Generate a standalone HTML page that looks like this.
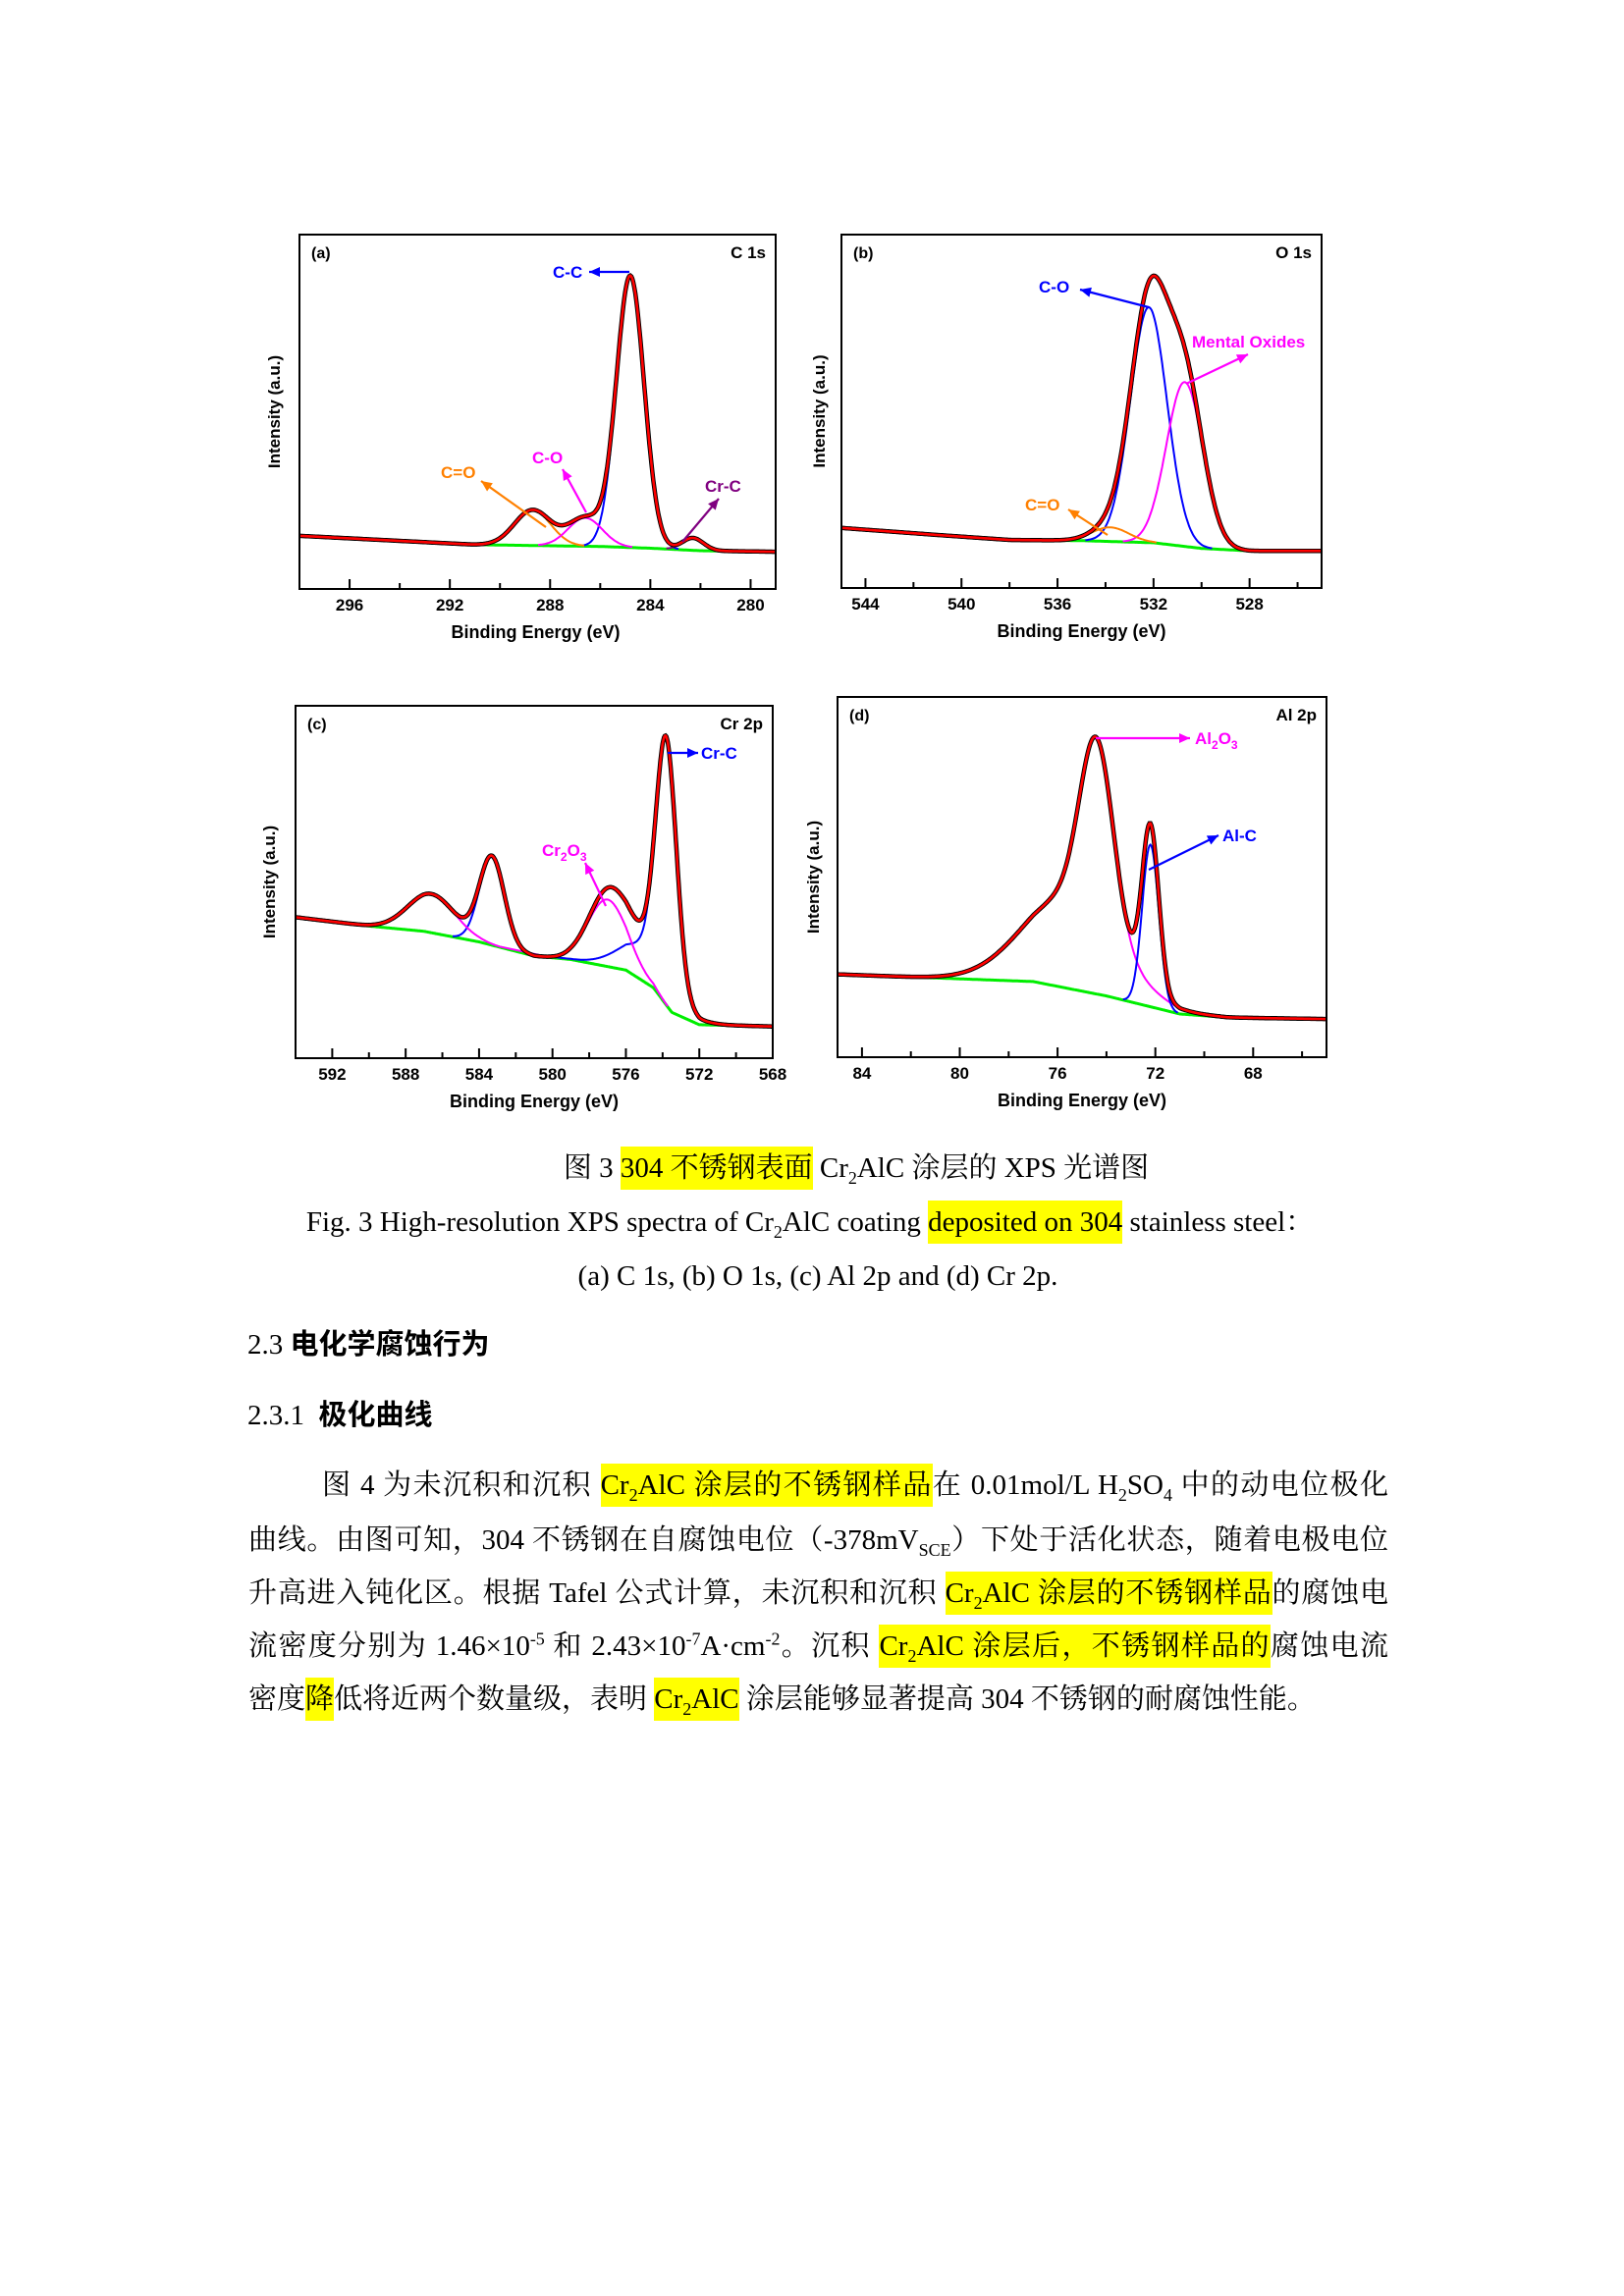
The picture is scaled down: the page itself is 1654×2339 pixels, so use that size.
<!DOCTYPE html>
<html><head><meta charset="utf-8">
<style>
html,body{margin:0;padding:0;background:#fff;}
body{width:1654px;height:2339px;position:relative;overflow:hidden;font-family:"Liberation Serif","Noto Serif CJK SC",serif;color:#000;}
.ln{position:absolute;white-space:nowrap;font-size:29px;line-height:40px;}
.j{text-align:justify;text-align-last:justify;white-space:normal;}
.hl{background:#ffff00;padding:6px 0;}
.c{text-align:center;}
sub,sup{font-size:0.62em;line-height:0;}
.hb{font-family:"Liberation Sans","Noto Sans CJK SC",sans-serif;font-weight:bold;}
svg text{font-family:"Liberation Sans",sans-serif;font-weight:bold;}
</style></head>
<body>
<svg id="fig" width="1654" height="1160" style="position:absolute;left:0;top:0" xmlns="http://www.w3.org/2000/svg"></svg>

<div class="ln c" style="left:0;width:1744px;top:1170px;">图 3 <span class="hl">304 不锈钢表面</span> Cr<sub>2</sub>AlC 涂层的 XPS 光谱图</div>
<div class="ln c" style="left:0;width:1650px;top:1225px;">Fig. 3 High-resolution XPS spectra of Cr<sub>2</sub>AlC coating <span class="hl">deposited on 304</span> stainless steel：</div>
<div class="ln c" style="left:0;width:1666px;top:1280px;">(a) C 1s, (b) O 1s, (c) Al 2p and (d) Cr 2p.</div>

<div class="ln" style="left:252px;top:1350px;">2.3 <span class="hb">电化学腐蚀行为</span></div>
<div class="ln" style="left:252px;top:1422px;">2.3.1&nbsp; <span class="hb">极化曲线</span></div>

<div>
<div class="ln j" style="left:328px;width:1086px;top:1493px;">图 4 为未沉积和沉积 <span class="hl">Cr<sub>2</sub>AlC 涂层的不锈钢样品</span>在 0.01mol/L H<sub>2</sub>SO<sub>4</sub> 中的动电位极化</div>
<div class="ln j" style="left:253px;width:1161px;top:1549px;">曲线。由图可知，304 不锈钢在自腐蚀电位（-378mV<sub>SCE</sub>）下处于活化状态，随着电极电位</div>
<div class="ln j" style="left:253px;width:1161px;top:1603px;">升高进入钝化区。根据 Tafel 公式计算，未沉积和沉积 <span class="hl">Cr<sub>2</sub>AlC 涂层的不锈钢样品</span>的腐蚀电</div>
<div class="ln j" style="left:253px;width:1161px;top:1657px;">流密度分别为 1.46×10<sup>-5</sup> 和 2.43×10<sup>-7</sup>A·cm<sup>-2</sup>。沉积 <span class="hl">Cr<sub>2</sub>AlC 涂层后，不锈钢样品的</span>腐蚀电流</div>
<div class="ln" style="left:253px;top:1711px;">密度<span class="hl">降</span>低将近两个数量级，表明 <span class="hl">Cr<sub>2</sub>AlC</span> 涂层能够显著提高 304 不锈钢的耐腐蚀性能。</div>
</div>

<script>
// ---------- data ----------
// Panel (a) C 1s
const aTicks=[296,292,288,284,280];
const aBgX=[298,291,286,284,282,279];
const aBgY=[15,12.5,12,11.5,10.8,10.5];
const aPeakCenter=[284.8,288.7,286.6,282.3];
const aPeakAmp=[76.5,10,8,3.5];
const aPeakFwhm=[1.3,1.7,1.6,1.0];
const aPeakGroup=[0,1,2,3];
// Panel (b) O 1s
const bTicks=[544,540,536,532,528];
const bBgX=[545,541,538,535,532,530,528,525];
const bBgY=[17,15,13.6,13.4,12.8,11.2,10.5,10.5];
const bPeakCenter=[532.2,530.7,533.8];
const bPeakAmp=[66.6,46.5,4];
const bPeakFwhm=[1.8,1.8,1.8];
const bPeakGroup=[0,1,2];
// Panel (c) Cr 2p
const cTicks=[592,588,584,580,576,572,568];
const cBgX=[594,590,587,584,581,579,576,574.5,573.5,572,568];
const cBgY=[40,37.5,36,33,29,28,25,20,13,9.5,9];
const cPeakCenter=[573.8,574.8,583.3,586.6,577.0];
const cPeakAmp=[68,10,25,11,19];
const cPeakFwhm=[1.3,3.5,1.6,3,2.5];
const cPeakGroup=[0,0,0,1,1];
// Panel (d) Al 2p
const dTicks=[84,80,76,72,68];
const dBgX=[85,77,74,71,69,65];
const dBgY=[23,21,17,12,11,10.6];
const dPeakCenter=[74.4,75.5,72.2];
const dPeakAmp=[50,25,45];
const dPeakFwhm=[1.6,4.5,0.8];
const dPeakGroup=[0,0,1];

// ---------- drawing ----------
const NS="http://www.w3.org/2000/svg";
const svg=document.getElementById('fig');
function mk(tag,attrs,parent){const e=document.createElementNS(NS,tag);for(const k in attrs)e.setAttribute(k,attrs[k]);(parent||svg).appendChild(e);return e;}
function txt(s,x,y,size,fill,anchor,parent){const t=mk('text',{x:x,y:y,'font-size':size,fill:fill,'text-anchor':anchor||'start'},parent);t.textContent=s;return t;}

function panel(cfg){
  const g=mk('g',{});
  
  
  const L=cfg.box[0],T=cfg.box[1],R=cfg.box[2],B=cfg.box[3],W=R-L,H=B-T;
  const xs=v=>L+(cfg.x0-v)/(cfg.x0-cfg.x1)*W;
  const ys=v=>B-v/100*H;
  const bg=v=>{const X=cfg.bgX,Y=cfg.bgY;if(v>=X[0])return Y[0];for(let i=0;i<X.length-1;i++){if(v<=X[i]&&v>=X[i+1]){const t=(X[i]-v)/(X[i]-X[i+1]);return Y[i]+t*(Y[i+1]-Y[i]);}}return Y[Y.length-1];};
  const comp=(i,v)=>cfg.amp[i]*Math.exp(-4*Math.LN2*Math.pow((v-cfg.cen[i])/cfg.fwhm[i],2));
  const vals=[];for(let v=cfg.x0;v>=cfg.x1-0.001;v-=0.04)vals.push(v);
  let d='';vals.forEach(v=>{if(v<=cfg.bgStart)d+=(d?'L':'M')+xs(v).toFixed(1)+' '+ys(bg(v)).toFixed(1);});
  const bgp=mk('path',{d:d,fill:'none',stroke:'#00ee00','stroke-width':3},g);
  
  
  const groups=[...new Set(cfg.group)];
  groups.forEach(gi=>{
    const idx=cfg.cen.map((c,i)=>i).filter(i=>cfg.group[i]===gi);
    let p='';vals.forEach(v=>{let y=0;idx.forEach(i=>y+=comp(i,v));if(y>0.15)p+=(p?'L':'M')+xs(v).toFixed(1)+' '+ys(bg(v)+y).toFixed(1);});
    const e=mk('path',{d:p,fill:'none',stroke:cfg.colors[gi],'stroke-width':2},g);
    
    
  });
  let t='';vals.forEach(v=>{let s=bg(v);cfg.cen.forEach((c,i)=>s+=comp(i,v));t+=(t?'L':'M')+xs(v).toFixed(1)+' '+ys(s).toFixed(1);});
  const raw=mk('path',{d:t,fill:'none',stroke:'#000','stroke-width':4.5},g);
  
  
  const fit=mk('path',{d:t,fill:'none',stroke:'#ff0000','stroke-width':2.6},g);
  
  
  const box=mk('rect',{x:L,y:T,width:W,height:H,fill:'none',stroke:'#000','stroke-width':2},g);
  
  
  const step=cfg.ticks[0]-cfg.ticks[1];
  for(let v=Math.ceil(cfg.x1);v<=cfg.x0;v++){
    const rel=(cfg.ticks[0]-v)/step*2;
    if(Math.abs(rel-Math.round(rel))<1e-6){
      const major=Math.abs(rel/2-Math.round(rel/2))<1e-6;
      mk('line',{x1:xs(v),x2:xs(v),y1:B,y2:B-(major?10:6),stroke:'#000','stroke-width':2},g);
    }
  }
  cfg.ticks.forEach(v=>{const tl=txt(String(v),xs(v),B+22,17,'#000','middle',g);});
  const xl=txt('Binding Energy (eV)',(L+R)/2+cfg.xlOff,B+50,18,'#000','middle',g);
  
  const yl=txt('Intensity (a.u.)',0,0,17,'#000','middle',g);
  yl.setAttribute('transform','translate('+(cfg.ylx)+','+((T+B)/2)+') rotate(-90)');
  
  const pl=txt(cfg.label,L+12,T+24,16,'#000','start',g);
  
  const el=txt(cfg.elem,R-10,T+24,17,'#000','end',g);
  
  return g;
}
function arrow(x1,y1,x2,y2,col,name){
  const g=mk('g',{});
  
  
  mk('line',{x1:x1,y1:y1,x2:x2,y2:y2,stroke:col,'stroke-width':2.2},g);
  const a=Math.atan2(y2-y1,x2-x1),l=11,w=5;
  const p=[[x2,y2],[x2-l*Math.cos(a)+w*Math.sin(a),y2-l*Math.sin(a)-w*Math.cos(a)],[x2-l*Math.cos(a)-w*Math.sin(a),y2-l*Math.sin(a)+w*Math.cos(a)]];
  mk('polygon',{points:p.map(q=>q.join(',')).join(' '),fill:col},g);
}
function label(s,x,y,col,name,anchor){const t=txt(s,x,y,17,col,anchor||'start');return t;}

panel({name:'panel-a-c1s',box:[305,239,790,600],x0:298,x1:279,ticks:aTicks,bgX:aBgX,bgY:aBgY,bgStart:292,cen:aPeakCenter,amp:aPeakAmp,fwhm:aPeakFwhm,group:aPeakGroup,colors:['#0000ff','#ff8000','#ff00ff','#800080'],label:'(a)',elem:'C 1s',ylx:285,xlOff:-2});
panel({name:'panel-b-o1s',box:[857,239,1346,599],x0:545,x1:525,ticks:bTicks,bgX:bBgX,bgY:bBgY,bgStart:537,cen:bPeakCenter,amp:bPeakAmp,fwhm:bPeakFwhm,group:bPeakGroup,colors:['#0000ff','#ff00ff','#ff8000'],label:'(b)',elem:'O 1s',ylx:840,xlOff:0});
panel({name:'panel-c-cr2p',box:[301,719,787,1078],x0:594,x1:568,ticks:cTicks,bgX:cBgX,bgY:cBgY,bgStart:594,cen:cPeakCenter,amp:cPeakAmp,fwhm:cPeakFwhm,group:cPeakGroup,colors:['#0000ff','#ff00ff'],label:'(c)',elem:'Cr 2p',ylx:280,xlOff:0});
panel({name:'panel-d-al2p',box:[853,710,1351,1077],x0:85,x1:65,ticks:dTicks,bgX:dBgX,bgY:dBgY,bgStart:85,cen:dPeakCenter,amp:dPeakAmp,fwhm:dPeakFwhm,group:dPeakGroup,colors:['#ff00ff','#0000ff'],label:'(d)',elem:'Al 2p',ylx:834,xlOff:0});

// annotations
arrow(641,277,600,277,'#0000ff','cc-arrow');label('C-C',563,283,'#0000ff','cc-label');
arrow(556,537,490,490,'#ff8000','co-double-arrow');label('C=O',449,487,'#ff8000','c-double-o-label');
arrow(597,522,573,478,'#ff00ff','co-arrow');label('C-O',542,472,'#ff00ff','c-o-label');
arrow(695,552,732,508,'#800080','crc-arrow-a');label('Cr-C',718,501,'#800080','cr-c-label-a');
arrow(1170,313,1100,295,'#0000ff','o-co-arrow');label('C-O',1058,298,'#0000ff','o-c-o-label');
arrow(1208,391,1271,361,'#ff00ff','oxide-arrow');label('Mental Oxides',1214,354,'#ff00ff','mental-oxides-label');
arrow(1128,545,1088,519,'#ff8000','o-c-double-o-arrow');label('C=O',1044,520,'#ff8000','o-c-double-o-label');
arrow(680,767,711,767,'#0000ff','cr-c-arrow-c');label('Cr-C',714,773,'#0000ff','cr-c-label-c');
arrow(617,923,596,879,'#ff00ff','cr2o3-arrow');
(function(){const t=label('Cr',552,872,'#ff00ff','cr2o3-label');const s1=mk('tspan',{'font-size':12,dy:5},t);s1.textContent='2';const s2=mk('tspan',{dy:-5},t);s2.textContent='O';const s3=mk('tspan',{'font-size':12,dy:5},t);s3.textContent='3';})();
arrow(1116,752,1212,752,'#ff00ff','al2o3-arrow');
(function(){const t=label('Al',1217,758,'#ff00ff','al2o3-label');const s1=mk('tspan',{'font-size':12,dy:5},t);s1.textContent='2';const s2=mk('tspan',{dy:-5},t);s2.textContent='O';const s3=mk('tspan',{'font-size':12,dy:5},t);s3.textContent='3';})();
arrow(1170,886,1241,851,'#0000ff','al-c-arrow');label('Al-C',1245,857,'#0000ff','al-c-label');
</script>
</body></html>
